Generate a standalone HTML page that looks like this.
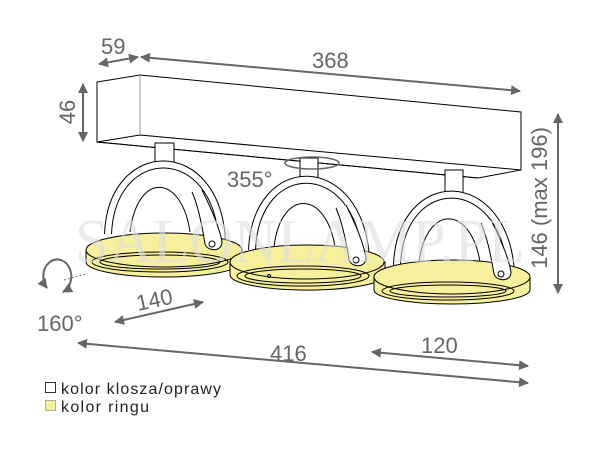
<!DOCTYPE html>
<html><head><meta charset="utf-8"><style>
html,body{margin:0;padding:0;background:#fff;width:600px;height:450px;overflow:hidden}
svg{display:block}
text{font-family:"Liberation Sans",sans-serif;fill:#666}
</style></head><body>
<svg width="600" height="450" viewBox="0 0 600 450" xmlns="http://www.w3.org/2000/svg">
<defs>
<marker id="a" viewBox="0 0 10 10" refX="9" refY="5" markerWidth="5" markerHeight="5" orient="auto-start-reverse"><path d="M0,0 L10,5 L0,10 z" fill="#666"/></marker>
</defs>
<!-- box -->
<g fill="#fff" stroke="#000" stroke-width="1">
<polygon points="97,82 140,75 521,112 521,170 478,178 97,142"/>
<polyline points="97,82 97,142 140,135 521,170" fill="none"/>
<line x1="140" y1="75" x2="140" y2="135" stroke="#999"/>
<line x1="97" y1="142" x2="478" y2="178"/>
</g>
<!-- lamps -->
<g stroke="#000" stroke-width="1">
 <rect x="155" y="143" width="19" height="25" fill="#fff"/>
 <path d="M108,234 C112,140 218,140 222,242" fill="none" stroke-width="8" stroke="#000"/>
 <path d="M108,234 C112,140 218,140 222,242" fill="none" stroke-width="6" stroke="#fff"/>
 <path d="M130,232 C138,170 182,175 190,232" fill="none"/>
 <path d="M86,250 L86,262 A78,15 0 0 0 242,262 L242,250 Z" fill="#f6f09c"/>
 <ellipse cx="164" cy="250" rx="78" ry="17" fill="#f6f09c"/>
 <ellipse cx="160" cy="262" rx="68" ry="10" fill="none"/>
 <ellipse cx="160" cy="262" rx="60" ry="7" fill="none"/>
 <path d="M202,190 C212,210 220,230 222,242 C222,252 208,252 205,244 C202,225 198,205 192,192" fill="#fff"/>
 <circle cx="212" cy="244" r="3" fill="#fff"/>
 <rect x="300" y="158" width="18" height="24" fill="#fff"/>
 <path d="M252,250 C256,155 359,155 366,258" fill="none" stroke-width="8"/>
 <path d="M252,250 C256,155 359,155 366,258" fill="none" stroke-width="6" stroke="#fff"/>
 <path d="M274,247 C281,188 326,190 335,247" fill="none"/>
 <path d="M230,262 L230,275 A77,15 0 0 0 385,275 L385,262 Z" fill="#f6f09c"/>
 <ellipse cx="307" cy="262" rx="77" ry="17" fill="#f6f09c"/>
 <ellipse cx="303" cy="276" rx="66" ry="10" fill="none"/>
 <ellipse cx="303" cy="276" rx="58" ry="7" fill="none"/>
 <path d="M346,205 C356,225 364,245 366,258 C366,268 352,268 349,260 C346,240 342,222 336,208" fill="#fff"/>
 <circle cx="356" cy="260" r="3" fill="#fff"/>
 <circle cx="269" cy="276" r="1.5" fill="none"/>
 <rect x="445" y="170" width="18" height="24" fill="#fff"/>
 <path d="M397,265 C401,170 504,170 511,272" fill="none" stroke-width="8"/>
 <path d="M397,265 C401,170 504,170 511,272" fill="none" stroke-width="6" stroke="#fff"/>
 <path d="M419,262 C427,203 471,206 480,262" fill="none"/>
 <path d="M374,277 L374,290 A78,14 0 0 0 530,290 L530,277 Z" fill="#f6f09c"/>
 <ellipse cx="452" cy="277" rx="78" ry="17" fill="#f6f09c"/>
 <ellipse cx="448" cy="291" rx="66" ry="9" fill="none"/>
 <ellipse cx="448" cy="291" rx="58" ry="6" fill="none"/>
 <path d="M491,220 C501,240 509,260 511,272 C511,282 497,282 494,274 C491,255 487,237 481,223" fill="#fff"/>
 <circle cx="501" cy="274" r="3" fill="#fff"/>
</g>
<!-- watermark -->
<text x="75" y="262" textLength="450" lengthAdjust="spacingAndGlyphs" font-size="62" style="fill:#ddd;fill-opacity:0.6;font-family:'Liberation Serif',serif">SALONLAMP.PL</text>
<ellipse cx="312" cy="163" rx="27" ry="6" fill="none" stroke="#666" stroke-width="1.5"/>
<text x="227" y="187" font-size="22">355°</text>
<path d="M47,288 A14,17 0 1 1 63,292" fill="none" stroke="#666" stroke-width="2" marker-end="url(#a)" marker-start="url(#a)"/>
<line x1="64" y1="280" x2="86" y2="274" stroke="#666" stroke-dasharray="2,2"/>
<text x="37" y="331" font-size="22">160°</text>
<g stroke="#666" stroke-width="2" marker-start="url(#a)" marker-end="url(#a)">
<line x1="99" y1="64" x2="138" y2="57"/>
<line x1="141" y1="57" x2="520" y2="91"/>
<line x1="83" y1="84" x2="83" y2="141"/>
<line x1="558" y1="114" x2="558" y2="293"/>
<line x1="115" y1="322" x2="203" y2="302"/>
<line x1="78" y1="343" x2="528" y2="383"/>
<line x1="372" y1="352" x2="528" y2="366"/>
</g>
<text x="101" y="54" font-size="22">59</text>
<text x="312" y="68" font-size="22">368</text>
<text transform="translate(75,112) rotate(-90)" text-anchor="middle" font-size="22">46</text>
<text transform="translate(547,198) rotate(-90)" text-anchor="middle" font-size="22">146 (max 196)</text>
<text transform="translate(138,311) rotate(-12)" font-size="22">140</text>
<text x="270" y="361" font-size="22">416</text>
<text x="421" y="353" font-size="22">120</text>
<rect x="45.5" y="382.5" width="10" height="10" fill="#fff" stroke="#333"/>
<rect x="45.5" y="400.5" width="10" height="10" fill="#f6f09c" stroke="#aaa"/>
<text x="61" y="394" font-size="16" textLength="160" style="fill:#222">kolor klosza/oprawy</text>
<text x="61" y="412" font-size="16" textLength="88" style="fill:#222">kolor ringu</text>
</svg>
</body></html>
